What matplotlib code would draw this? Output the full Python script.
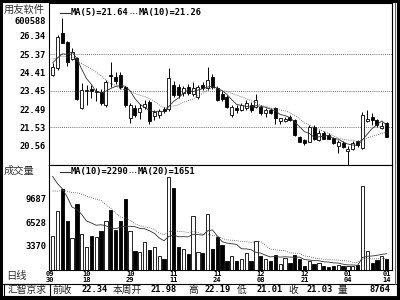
import matplotlib
matplotlib.use("Agg")
import matplotlib.pyplot as plt
from matplotlib.lines import Line2D
from matplotlib.patches import Rectangle
from matplotlib.transforms import blended_transform_factory
import pandas as pd

plt.rcParams['font.family'] = ['Noto Sans CJK SC', 'DejaVu Sans']

# daily bars, 09/30 .. 01/14
opens = [24.30, 24.64, 26.48, 26.04, 25.15, 25.20, 22.54, 23.45, 23.55, 23.40,
         23.41, 22.71, 24.28, 24.20, 24.29, 23.64, 22.01, 22.54, 22.36, 22.59,
         22.89, 22.14, 22.20, 22.48, 22.50, 23.77, 23.64, 23.35, 23.68, 23.30,
         23.15, 23.75, 23.61, 24.18, 23.61, 23.30, 23.15, 22.19, 22.55, 22.45,
         22.55, 22.71, 22.62, 22.62, 22.31, 22.45, 22.54, 21.89, 21.89, 22.10,
         21.93, 21.05, 20.88, 20.79, 21.57, 20.88, 21.23, 21.15, 20.96, 20.55,
         20.70, 20.30, 20.40, 20.80, 20.44, 21.85, 22.10, 21.93, 21.50, 21.75]
highs = [24.90, 26.40, 27.27, 26.10, 25.70, 25.25, 23.85, 23.77, 23.75, 23.60,
         23.55, 24.00, 24.99, 24.45, 24.45, 23.70, 22.80, 22.70, 22.75, 22.95,
         22.98, 22.45, 22.50, 22.60, 24.64, 23.95, 23.80, 23.70, 23.80, 23.90,
         23.75, 23.90, 24.73, 24.35, 23.70, 23.45, 23.25, 22.70, 22.70, 22.80,
         23.00, 22.85, 23.30, 22.70, 22.55, 22.55, 22.60, 22.05, 22.10, 22.20,
         22.00, 21.10, 20.95, 21.65, 21.65, 21.40, 21.35, 21.25, 21.05, 20.85,
         20.80, 20.55, 20.80, 20.85, 22.36, 22.45, 22.30, 22.00, 21.80, 21.80]
lows = [24.25, 24.55, 25.95, 24.75, 25.05, 22.95, 22.49, 22.71, 23.10, 22.90,
        22.70, 22.60, 23.68, 23.80, 23.55, 22.60, 21.75, 22.10, 22.00, 22.50,
        21.70, 21.90, 22.05, 22.30, 22.40, 23.15, 23.10, 23.20, 23.25, 23.20,
        23.05, 23.50, 23.50, 23.55, 22.90, 22.90, 22.55, 22.10, 22.30, 22.40,
        22.45, 22.35, 22.55, 22.20, 22.10, 22.25, 21.70, 21.70, 21.80, 21.85,
        21.10, 20.75, 20.60, 20.75, 20.85, 20.80, 20.90, 20.90, 20.65, 20.18,
        20.45, 19.56, 20.35, 20.50, 20.40, 21.80, 21.65, 21.55, 21.45, 21.01]
closes = [24.72, 26.30, 25.99, 24.95, 25.50, 23.01, 23.50, 23.52, 23.45, 23.45,
          22.84, 23.94, 24.22, 23.99, 23.64, 22.71, 22.71, 22.19, 22.54, 22.77,
          21.89, 22.36, 22.39, 22.42, 24.13, 23.24, 23.24, 23.61, 23.35, 23.60,
          23.68, 23.60, 24.03, 23.66, 22.98, 23.05, 22.62, 22.62, 22.45, 22.71,
          22.80, 22.45, 22.98, 22.28, 22.45, 22.31, 22.01, 22.01, 22.00, 21.93,
          21.14, 20.79, 20.70, 21.57, 20.91, 21.23, 20.95, 20.95, 20.70, 20.75,
          20.50, 20.40, 20.70, 20.60, 22.20, 22.00, 21.90, 21.65, 21.62, 21.03]
volumes = [4640, 8090, 11090, 6680, 4320, 8960, 4910, 3180, 4680, 4460,
           5360, 6680, 8180, 5460, 6680, 9640, 5320, 2590, 2410, 3860,
           2730, 3180, 1910, 1540, 12730, 11140, 3180, 2820, 2140, 7370,
           2410, 2300, 7700, 2880, 4460, 3430, 1180, 1910, 1180, 1460,
           2270, 1230, 3960, 1870, 1550, 1230, 2000, 820, 1680, 1000,
           2050, 1460, 590, 1230, 820, 960, 590, 460, 590, 680,
           520, 520, 520, 680, 11500, 2640, 1000, 1360, 1910, 1460]

# days before the window, estimated from where the MA lines start
prior_closes = [25.40, 25.30, 25.40, 25.20, 25.30, 25.00, 24.90, 25.10, 24.90]
prior_volumes = [8800, 8800, 8800, 8800, 8800, 8800, 8800, 8800, 8800, 8800,
                 18000, 18000, 18000, 18000, 12000, 12000, 12000, 7500, 7500]

date_pos = [0, 7, 16, 25, 34, 43, 52, 61, 69]
date_month = ["09", "10", "10", "11", "11", "12", "12", "01", "01"]
date_day = ["30", "18", "29", "11", "24", "08", "21", "04", "14"]
price_ticks = [26.34, 25.37, 24.41, 23.45, 22.49, 21.53, 20.56]
price_grid = [25.37, 23.45, 21.53]
vol_ticks = [9687, 6528, 3370]
info_items = [("前收", 62), ("22.34", 95), ("本周开", 127), ("21.98", 164),
              ("高", 193), ("22.19", 218), ("低", 242), ("21.01", 270),
              ("收", 293), ("21.03", 320), ("量", 342), ("8764", 380)]

W, H = 400, 300
MONO = ['DejaVu Sans Mono']
CJK = ['Noto Sans CJK SC', 'DejaVu Sans']


def box(x0, y0, x1, y1):
    return [x0 / W, 1 - y1 / H, (x1 - x0) / W, (y1 - y0) / H]


def fline(xs, ys, **kw):
    fig.add_artist(Line2D([x / W for x in xs], [1 - y / H for y in ys], **kw))


def ftext(x, y, s, **kw):
    fig.text(x / W, 1 - y / H, s, **kw)


fig = plt.figure(figsize=(4, 3), dpi=100)
ax = fig.add_axes(box(49, 3, 392, 165))
axv = fig.add_axes(box(49, 165, 392, 270), sharex=ax)

n = len(closes)
idx = list(range(n))
up = [c >= o for o, c in zip(opens, closes)]
body_col = ['white' if u else 'black' for u in up]

# candles
ax.vlines(idx, lows, highs, color='black', lw=0.7, zorder=2)
bottoms = [min(o, c) for o, c in zip(opens, closes)]
heights = [max(abs(c - o), 0.04) for o, c in zip(opens, closes)]
ax.bar(idx, heights, bottom=bottoms, width=0.62, color=body_col,
       edgecolor='black', lw=0.6, zorder=3)

c_all = pd.Series(prior_closes + closes)
ma5 = c_all.rolling(5).mean().iloc[len(prior_closes):].values
ma10 = c_all.rolling(10).mean().iloc[len(prior_closes):].values
ax.plot(idx, ma5, color='#303030', lw=0.6, zorder=4)
ax.plot(idx, ma10, color='#505050', lw=0.6, ls=(0, (1, 1.5)), zorder=4)

for g in price_grid:
    ax.axhline(g, color='#404040', lw=0.6, ls=(0, (1, 1.5)), zorder=1)

ax.set_xlim(-0.76, 70.1)
ax.set_ylim(19.56, 28.07)
ax.set_yticks(price_ticks)
ax.set_yticklabels([f"{t:.2f}" for t in price_ticks], family=MONO,
                   fontsize=6.3, fontweight='bold')
ax.tick_params(axis='y', length=0, pad=2)
ax.tick_params(axis='x', length=0, labelbottom=False)

# volume
axv.bar(idx, volumes, width=0.68, color=body_col, edgecolor='black', lw=0.6,
        zorder=3)
v_all = pd.Series(prior_volumes + volumes)
vma10 = v_all.rolling(10).mean().iloc[len(prior_volumes):].values
vma20 = v_all.rolling(20).mean().iloc[len(prior_volumes):].values
axv.plot(idx, vma10, color='#303030', lw=0.6, zorder=4)
axv.plot(idx, vma20, color='#505050', lw=0.6, ls=(0, (1, 1.5)), zorder=4)
axv.set_ylim(0, 14322)
axv.set_yticks(vol_ticks)
axv.set_yticklabels([str(t) for t in vol_ticks], family=MONO,
                    fontsize=6.3, fontweight='bold')
axv.tick_params(axis='y', length=0, pad=2)
axv.set_xticks([])

for a in (ax, axv):
    for sp in a.spines.values():
        sp.set_linewidth(0.8)
        sp.set_color('black')

# date labels under the volume panel (x in bar units, y in figure)
tr = blended_transform_factory(axv.transData, fig.transFigure)
for p, m, d in zip(date_pos, date_month, date_day):
    ha = 'right' if p == date_pos[0] else 'center'
    dx = 0.3 if p == date_pos[0] else 0
    for s, yy in ((m, 273.8), (d, 279.6)):
        fig.text(p + dx, 1 - yy / H, s, transform=tr, ha=ha, va='center',
                 family=MONO, fontsize=5.0, fontweight='bold')

# legends
fline([60, 70], [12.5, 12.5], color='#303030', lw=0.8)
ftext(71, 12.5, "MA(5)=21.64", family=MONO, fontsize=6.3, fontweight='bold',
      va='center')
fline([130, 138], [12.5, 12.5], color='#404040', lw=0.8, ls=(0, (1, 1.5)))
ftext(139, 12.5, "MA(10)=21.26", family=MONO, fontsize=6.3,
      fontweight='bold', va='center')
fline([60, 70], [171.5, 171.5], color='#303030', lw=0.8)
ftext(71, 171.5, "MA(10)=2290", family=MONO, fontsize=6.3, fontweight='bold',
      va='center')
fline([129, 137], [171.5, 171.5], color='#404040', lw=0.8, ls=(0, (1, 1.5)))
ftext(138, 171.5, "MA(20)=1651", family=MONO, fontsize=6.3,
      fontweight='bold', va='center')

# left captions
ftext(4, 10, "用友软件", family=CJK, fontsize=7.4, color='#303030', va='center')
ftext(46, 22, "600588", family=MONO, fontsize=6.3, fontweight='bold',
      va='center', ha='right')
ftext(4, 171, "成交量", family=CJK, fontsize=7.4, color='#303030', va='center')
ftext(6, 276.5, "日线", family=CJK, fontsize=7.4, color='#303030', va='center')

# bottom info row
fline([2, 397], [283.5, 283.5], color='black', lw=0.8)
fig.add_artist(Rectangle((4 / W, 1 - 296 / H), 46 / W, 12 / H,
                         transform=fig.transFigure, fill=False,
                         edgecolor='black', lw=0.8))
ftext(27, 289.8, "汇智京求", family=CJK, fontsize=7.0, ha='center',
      va='center', color='#202020')
for s, x in info_items:
    if s[0].isdigit():
        ftext(x, 289.8, s, family=MONO, fontsize=6.3, fontweight='bold',
              ha='center', va='center')
    else:
        ftext(x, 289.8, s, family=CJK, fontsize=7.0, ha='center',
              va='center', color='#202020')

# frame
fline([394.5, 394.5], [3, 283.5], color='#606060', lw=0.7)
fline([0, 400], [1, 1], color='black', lw=2.2)
fline([1, 1], [0, 300], color='black', lw=2.2)
fline([398.5, 398.5], [0, 300], color='black', lw=3.0)
fline([0, 400], [298, 298], color='black', lw=3.5)

fig.savefig("out.png", dpi=100, facecolor='white')
